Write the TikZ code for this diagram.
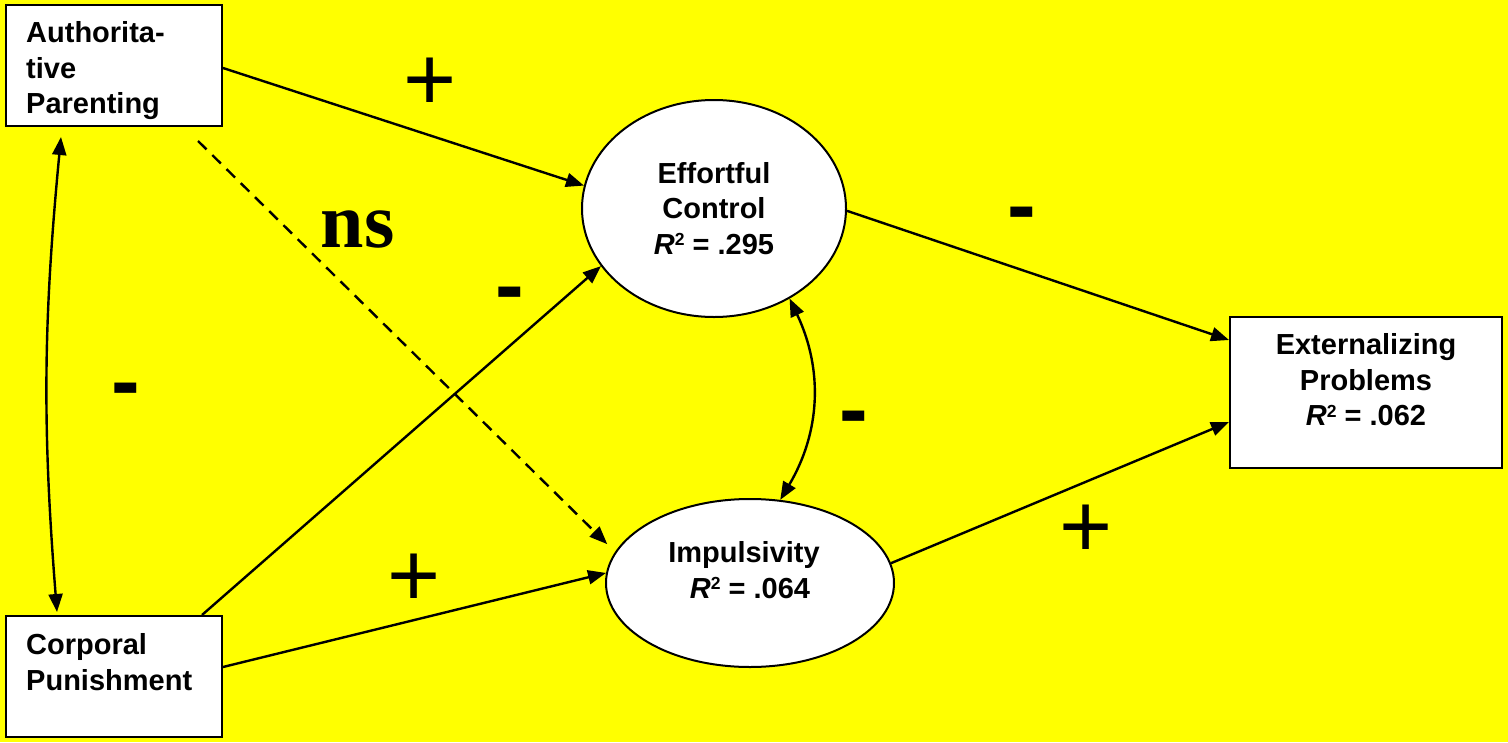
\documentclass[tikz,border=0pt]{standalone}
\usepackage{fontspec}
\setmainfont{Liberation Sans}
\newfontfamily\nsfamily{Liberation Serif}
\usetikzlibrary{shapes.geometric,arrows.meta}
\definecolor{bgy}{RGB}{255,255,0}
\newcommand{\Rsq}{\textit{R}\raisebox{0.29em}{\fontsize{17.5}{17.5}\selectfont 2}}
\tikzset{
  boxnode/.style={draw, fill=white, line width=2pt, inner sep=0pt, rectangle},
  ovalnode/.style={draw, fill=white, line width=2pt, inner sep=0pt, ellipse},
  lbl/.style={font=\fontsize{29}{35.5}\selectfont\bfseries, inner sep=0pt},
  plussign/.style={font=\fontsize{91}{91}\selectfont, inner sep=0pt},
  minussign/.style={font=\fontsize{86}{86}\selectfont\bfseries, inner sep=0pt},
  nslabel/.style={font=\fontsize{78}{78}\selectfont\nsfamily\bfseries, inner sep=0pt},
  arr/.style={line width=2.4pt, -{Triangle[length=18pt,width=14pt]}},
  dbl/.style={line width=2.4pt, {Triangle[length=18pt,width=14pt]}-{Triangle[length=18pt,width=14pt]}},
}
\begin{document}
\begin{tikzpicture}[x=1pt,y=-1pt]
\useasboundingbox (0,0) rectangle (1508,742);
\fill[bgy] (0,0) rectangle (1508,742);

% boxes and ovals
\node[boxnode, minimum width=216pt, minimum height=121pt] (ap) at (114,65.5) {};
\node[lbl, anchor=west, align=left] (apt) at (26,71) {Authorita-\\tive\\Parenting};
\node[boxnode, minimum width=216pt, minimum height=121pt] (cp) at (114,676.5) {};
\node[lbl, anchor=west, align=left] (cpt) at (26,662) {Corporal\\Punishment};
\node[ovalnode, lbl, align=center, minimum width=264pt, minimum height=217pt] (ec) at (714,208.5) {Effortful\\Control\\\Rsq{} = .295};
\node[ovalnode, minimum width=288pt, minimum height=168pt] (im) at (750,583) {};
\node[lbl, align=center] (imt) at (744,570) {Impulsivity\\\hspace*{12pt}\Rsq{} = .064};
\node[boxnode, minimum width=272pt, minimum height=151pt] (ex) at (1366,392.5) {};
\node[lbl, align=center] (ext) at (1366,380) {Externalizing\\Problems\\\Rsq{} = .062};

% connectors
\draw[arr] ([yshift=-2.5pt]ap.east) -- (ec.170);
\draw[arr, dash pattern=on 12pt off 8pt, shorten >=11pt] ([xshift=84pt,yshift=-14pt]ap.south) -- (im.167);
\draw[arr] ([xshift=88pt]cp.north) -- (ec.207);
\draw[arr] ([yshift=9.5pt]cp.east) -- (im.176);
\draw[arr] (ec.-1.5) -- ([yshift=52.5pt]ex.west);
\draw[arr] (im.8) -- ([yshift=-29.5pt]ex.west);
\draw[dbl] ([xshift=-53pt,yshift=-10pt]ap.south) to[bend right=5] ([xshift=-57pt,yshift=3pt]cp.north);
\draw[dbl] (ec.-50) to[bend left=28] (im.70.6);

% signs
\node[plussign] (p1) at (430,84) {+};
\node[plussign] (p2) at (414,580) {+};
\node[plussign] (p3) at (1086,531) {+};
\node[minussign] (m1) at (1022,221) {-};
\node[minussign] (m2) at (509.5,301) {-};
\node[minussign] (m3) at (853.5,425) {-};
\node[minussign] (m4) at (126,397) {-};
\node[nslabel] (ns) at (357.5,229) {ns};
\end{tikzpicture}
\end{document}
